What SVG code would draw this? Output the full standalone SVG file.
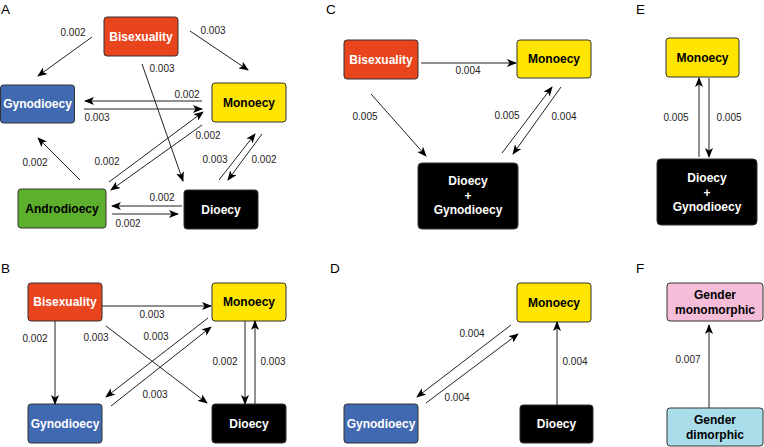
<svg xmlns="http://www.w3.org/2000/svg" width="764" height="447" viewBox="0 0 764 447">
<style>
.box{stroke:#333;stroke-width:1}
.nt{font-family:"Liberation Sans",Arial,sans-serif;font-weight:bold;font-size:12px;text-anchor:middle;dominant-baseline:central}
.w{fill:#fff}.k{fill:#000}
.lb{font-family:"Liberation Sans",Arial,sans-serif;font-size:10px;text-anchor:middle;dominant-baseline:central;fill:#222}
.pl{font-family:"Liberation Sans",Arial,sans-serif;font-size:13.5px;fill:#000}
.c line{stroke:#222;stroke-width:1;marker-end:url(#ah)}
</style>
<defs>
<marker id="ah" viewBox="0 0 10 8" refX="9" refY="4" markerWidth="10" markerHeight="8" markerUnits="userSpaceOnUse" orient="auto">
<path d="M0,0 L10,4 L0,8 L2.5,4 z" fill="#000"/>
</marker>
</defs>
<rect width="764" height="447" fill="#fff"/>
<text class="pl" x="1" y="14">A</text>
<text class="pl" x="1" y="273">B</text>
<text class="pl" x="326" y="14">C</text>
<text class="pl" x="330" y="273">D</text>
<text class="pl" x="636" y="14">E</text>
<text class="pl" x="636" y="273">F</text>

<!-- Panel A -->
<g id="A-bisexuality"><rect class="box" x="104" y="17" width="74" height="39" rx="3" fill="#E8441E"/><text class="nt w" x="141" y="36.5">Bisexuality</text></g>
<g id="A-gynodioecy"><rect class="box" x="0.5" y="85" width="74" height="38" rx="3" fill="#4169B1"/><text class="nt w" x="37.5" y="104">Gynodioecy</text></g>
<g id="A-monoecy"><rect class="box" x="212" y="83" width="74" height="39" rx="3" fill="#FFE500"/><text class="nt k" x="249" y="102.5">Monoecy</text></g>
<g id="A-androdioecy"><rect class="box" x="18" y="189" width="88" height="39" rx="3" fill="#5DAF2E"/><text class="nt k" x="62" y="208.5">Androdioecy</text></g>
<g id="A-dioecy"><rect class="box" x="184" y="190" width="74" height="39" rx="3" fill="#000"/><text class="nt w" x="221" y="209.5">Dioecy</text></g>

<!-- Panel B -->
<g id="B-bisexuality"><rect class="box" x="28" y="283" width="74" height="38" rx="3" fill="#E8441E"/><text class="nt w" x="65" y="302">Bisexuality</text></g>
<g id="B-monoecy"><rect class="box" x="212" y="283" width="74" height="38" rx="3" fill="#FFE500"/><text class="nt k" x="249" y="302">Monoecy</text></g>
<g id="B-gynodioecy"><rect class="box" x="28" y="404" width="74" height="39" rx="3" fill="#4169B1"/><text class="nt w" x="65" y="423.5">Gynodioecy</text></g>
<g id="B-dioecy"><rect class="box" x="212" y="404" width="74" height="39" rx="3" fill="#000"/><text class="nt w" x="249" y="423.5">Dioecy</text></g>

<!-- Panel C -->
<g id="C-bisexuality"><rect class="box" x="344" y="40" width="74" height="39" rx="3" fill="#E8441E"/><text class="nt w" x="381" y="59.5">Bisexuality</text></g>
<g id="C-monoecy"><rect class="box" x="517" y="40" width="74" height="38" rx="3" fill="#FFE500"/><text class="nt k" x="554" y="59">Monoecy</text></g>
<g id="C-dioecy-gynodioecy"><rect class="box" x="418" y="163" width="100" height="66" rx="4" fill="#000"/><text class="nt w" x="468" y="181">Dioecy</text><text class="nt w" x="468" y="196">+</text><text class="nt w" x="468" y="210">Gynodioecy</text></g>

<!-- Panel D -->
<g id="D-monoecy"><rect class="box" x="517" y="283" width="74" height="39" rx="3" fill="#FFE500"/><text class="nt k" x="554" y="302.5">Monoecy</text></g>
<g id="D-gynodioecy"><rect class="box" x="344" y="404" width="74" height="39" rx="3" fill="#4169B1"/><text class="nt w" x="381" y="423.5">Gynodioecy</text></g>
<g id="D-dioecy"><rect class="box" x="520" y="405" width="73" height="38" rx="3" fill="#000"/><text class="nt w" x="556.5" y="424">Dioecy</text></g>

<!-- Panel E -->
<g id="E-monoecy"><rect class="box" x="666" y="38" width="73" height="39" rx="3" fill="#FFE500"/><text class="nt k" x="702.5" y="57.5">Monoecy</text></g>
<g id="E-dioecy-gynodioecy"><rect class="box" x="657" y="159" width="100" height="66" rx="4" fill="#000"/><text class="nt w" x="707" y="178">Dioecy</text><text class="nt w" x="707" y="193">+</text><text class="nt w" x="707" y="207">Gynodioecy</text></g>

<!-- Panel F -->
<g id="F-monomorphic"><rect class="box" x="667" y="283" width="96" height="38" rx="3" fill="#F5BDD8"/><text class="nt k" x="715" y="295">Gender</text><text class="nt k" x="715" y="310">monomorphic</text></g>
<g id="F-dimorphic"><rect class="box" x="667" y="408" width="96" height="38" rx="3" fill="#A9DDE9"/><text class="nt k" x="715" y="420">Gender</text><text class="nt k" x="715" y="435">dimorphic</text></g>

<g id="connectors" class="c">
<!-- A -->
<line x1="92" y1="37" x2="38" y2="76"/>
<line x1="190" y1="31" x2="248" y2="70"/>
<line x1="142" y1="64" x2="183" y2="181"/>
<line x1="202" y1="101" x2="85" y2="101"/>
<line x1="84" y1="109" x2="202" y2="109"/>
<line x1="109" y1="182" x2="203" y2="112"/>
<line x1="202" y1="125" x2="111" y2="190"/>
<line x1="80" y1="180" x2="38" y2="138"/>
<line x1="219" y1="180" x2="255" y2="134"/>
<line x1="262" y1="134" x2="228" y2="180"/>
<line x1="182" y1="206" x2="112" y2="206"/>
<line x1="112" y1="214" x2="178" y2="214"/>
<!-- B -->
<line x1="102" y1="306" x2="211" y2="306"/>
<line x1="55" y1="321" x2="55" y2="404"/>
<line x1="106" y1="326" x2="207" y2="403"/>
<line x1="208" y1="318" x2="106" y2="397"/>
<line x1="111" y1="406" x2="211" y2="327"/>
<line x1="245" y1="321" x2="245" y2="404"/>
<line x1="255" y1="404" x2="255" y2="321"/>
<!-- C -->
<line x1="421" y1="63" x2="516" y2="63"/>
<line x1="371" y1="94" x2="426" y2="156"/>
<line x1="502" y1="153" x2="552" y2="87"/>
<line x1="561" y1="87" x2="513" y2="154"/>
<!-- D -->
<line x1="511" y1="325" x2="417" y2="397"/>
<line x1="426" y1="403" x2="518" y2="334"/>
<line x1="557" y1="405" x2="557" y2="322"/>
<!-- E -->
<line x1="699" y1="157" x2="699" y2="78"/>
<line x1="709" y1="78" x2="709" y2="157"/>
<!-- F -->
<line x1="709" y1="408" x2="709" y2="325"/>
</g>

<g id="labels">
<text class="lb" x="73" y="32">0.002</text>
<text class="lb" x="213" y="30">0.003</text>
<text class="lb" x="162" y="68">0.003</text>
<text class="lb" x="187" y="94">0.002</text>
<text class="lb" x="97" y="117">0.003</text>
<text class="lb" x="107" y="161">0.002</text>
<text class="lb" x="208" y="135">0.002</text>
<text class="lb" x="35" y="162">0.002</text>
<text class="lb" x="215" y="159">0.003</text>
<text class="lb" x="264" y="159">0.002</text>
<text class="lb" x="162" y="197">0.002</text>
<text class="lb" x="128" y="223">0.002</text>

<text class="lb" x="152" y="314">0.003</text>
<text class="lb" x="35" y="338">0.002</text>
<text class="lb" x="96" y="337">0.003</text>
<text class="lb" x="156" y="336">0.003</text>
<text class="lb" x="155" y="394">0.003</text>
<text class="lb" x="225" y="361">0.002</text>
<text class="lb" x="273" y="361">0.003</text>

<text class="lb" x="468" y="70">0.004</text>
<text class="lb" x="365" y="116">0.005</text>
<text class="lb" x="507" y="115">0.005</text>
<text class="lb" x="564" y="116">0.004</text>

<text class="lb" x="472" y="333">0.004</text>
<text class="lb" x="457" y="397">0.004</text>
<text class="lb" x="575" y="361">0.004</text>

<text class="lb" x="676" y="117">0.005</text>
<text class="lb" x="729" y="117">0.005</text>

<text class="lb" x="688" y="359">0.007</text>
</g>
</svg>
